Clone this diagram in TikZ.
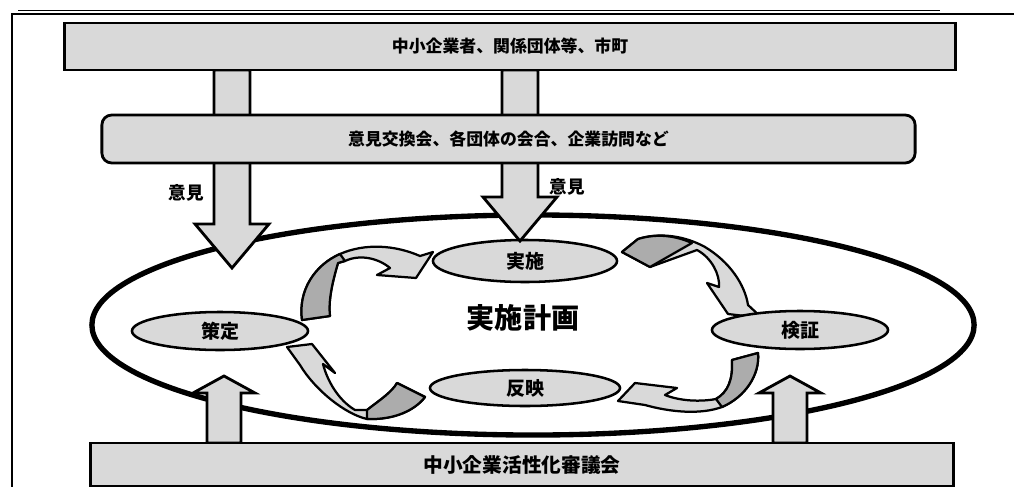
\documentclass[tikz,border=0pt]{standalone}
\usepackage{fontspec}
\newfontfamily\jpfont{Noto Sans CJK JP}
\usetikzlibrary{shapes.geometric}
\tikzstyle{band} = [draw=black,line width=2pt,fill=gray!30]
\tikzstyle{ribbon} = [draw=black,line width=1.6pt,fill=gray!30,line join=round]
\tikzstyle{shade} = [draw=black,line width=1.6pt,fill=gray!65,line join=round]
\tikzstyle{stage} = [ellipse,draw=black,line width=1.8pt,fill=gray!30,inner sep=0pt,font=\jpfont\bfseries\fontsize{13.5}{15}\selectfont]
\tikzstyle{say} = [font=\jpfont\bfseries\fontsize{12.5}{14}\selectfont]

\begin{document}
\begin{tikzpicture}[x=0.025cm,y=-0.025cm]
\useasboundingbox (0,0) rectangle (1014,487);
\draw[line width=1.6pt] (12,487) -- (12,14) -- (1014,14);
\draw[line width=0.5pt] (18,10) -- (940,10);

\draw[line width=3.8pt] (533,325) ellipse [x radius=11.025cm,y radius=2.75cm];

\draw[ribbon] (302,320) .. controls (298,290) and (315,265) .. (340,254) .. controls (365,243) and (395,245) .. (420,256) -- (433,252) -- (416,278) -- (377,275) -- (390,268) .. controls (378,258) and (360,254) .. (345,261) -- (338,263) .. controls (333,280) and (328,300) .. (330,316) -- cycle;
\draw[shade] (302,320) .. controls (298,290) and (315,265) .. (340,254) -- (345,261) -- (338,263) .. controls (333,280) and (328,300) .. (330,316) -- cycle;

\draw[ribbon] (622,252) -- (638,239) .. controls (660,232) and (685,236) .. (705,247) .. controls (730,262) and (745,285) .. (748,305) -- (762,318) -- (728,314) -- (707,283) -- (719,287) .. controls (720,275) and (712,258) .. (697,250) -- (650,267) -- cycle;
\draw[shade] (622,252) -- (638,239) .. controls (658,233) and (676,236) .. (692,243) -- (650,267) -- cycle;

\draw[ribbon] (732,360) -- (758,353) .. controls (760,375) and (745,397) .. (722,407) .. controls (700,415) and (670,412) .. (645,405) -- (618,401) -- (635,383) -- (677,388) -- (665,395) .. controls (680,401) and (700,402) .. (716,399) .. controls (728,392) and (733,380) .. (732,360) -- cycle;
\draw[shade] (732,360) -- (758,353) .. controls (760,375) and (745,397) .. (722,407) -- (716,399) .. controls (728,392) and (733,380) .. (732,360) -- cycle;

\draw[ribbon] (397,383) -- (425,397) .. controls (415,410) and (395,420) .. (367,419) .. controls (345,414) and (315,390) .. (300,365) -- (287,347) -- (312,344) -- (335,373) -- (323,364) .. controls (327,380) and (338,400) .. (355,410) -- (367,410) .. controls (380,400) and (392,392) .. (397,383) -- cycle;
\draw[shade] (397,383) -- (425,397) .. controls (415,410) and (395,420) .. (367,419) -- (367,410) .. controls (380,400) and (392,392) .. (397,383) -- cycle;

\node[stage,minimum width=4.6cm,minimum height=1.05cm] (impl) at (525,261) {実施};
\node[stage,minimum width=4.4cm,minimum height=0.95cm] (plan) at (220,331) {策定};
\node[stage,minimum width=4.4cm,minimum height=0.95cm] (verify) at (800,330) {検証};
\node[stage,minimum width=4.75cm,minimum height=0.9cm] (reflect) at (525,388) {反映};
\node[font=\jpfont\bfseries\fontsize{20}{24}\selectfont] (title) at (523,318) {実施計画};

\foreach \x/\t in {232/268,520/241}
{
 \draw[band] (\x-18,70) -- (\x-18,\t-44) -- (\x-37,\t-44) -- (\x,\t) -- (\x+37,\t-44) -- (\x+18,\t-44) -- (\x+18,70) -- cycle;
}

\foreach \x in {224,790}
{
 \draw[band] (\x-17,443) -- (\x-17,393) -- (\x-31,393) -- (\x,376) -- (\x+31,393) -- (\x+17,393) -- (\x+17,443) -- cycle;
}

\node[band,minimum width=22.25cm,minimum height=1.175cm,font=\jpfont\bfseries\fontsize{12}{14}\selectfont] (partners) at (510,46.5) {中小企業者、関係団体等、市町};
\node[band,rounded corners=7pt,minimum width=20.325cm,minimum height=1.2cm,font=\jpfont\bfseries\fontsize{12}{14}\selectfont] (meeting) at (508.5,139) {意見交換会、各団体の会合、企業訪問など};
\node[band,minimum width=21.55cm,minimum height=1.075cm,font=\jpfont\bfseries\fontsize{14}{16}\selectfont] (council) at (522,464.5) {中小企業活性化審議会};

\node[say] (opinionL) at (186,193) {意見};
\node[say] (opinionR) at (567,187) {意見};

\end{tikzpicture}
\end{document}
